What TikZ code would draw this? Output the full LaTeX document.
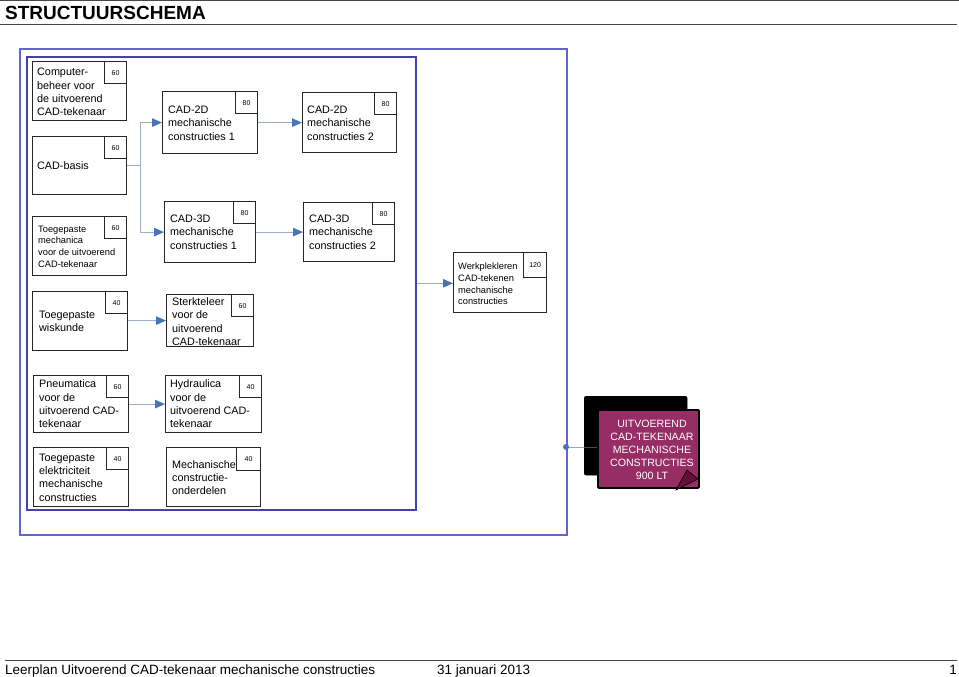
\documentclass[tikz,border=0pt]{standalone}
\usepackage{fontspec}
\setmainfont{Liberation Sans}
\usetikzlibrary{arrows.meta,calc}
\definecolor{outerblue}{RGB}{100,100,205}
\definecolor{innerblue}{RGB}{65,65,175}
\definecolor{connline}{RGB}{150,175,205}
\definecolor{arrowblue}{RGB}{70,115,185}
\definecolor{magbox}{RGB}{150,45,100}
\definecolor{magfold}{RGB}{100,15,55}
\definecolor{rulegrey}{RGB}{70,70,70}
\tikzset{
  mod/.style={draw=black!85, line width=1.2pt, fill=white, anchor=north west, inner sep=0pt},
  num/.style={draw=black!85, line width=1.2pt, fill=white, anchor=north east, minimum width=22pt, minimum height=22pt, inner sep=0pt, font=\fontsize{7}{8}\selectfont},
  txt/.style={anchor=west, align=left, inner sep=0pt, font=\fontsize{10.8}{13.3}\selectfont},
  stxt/.style={anchor=west, align=left, inner sep=0pt, font=\fontsize{9.3}{11.6}\selectfont},
  conn/.style={draw=connline, line width=1pt, -{Triangle[length=10pt,width=8.5pt,color=arrowblue]}},
  plainconn/.style={draw=connline, line width=1pt},
  rule/.style={draw=rulegrey, line width=1pt},
  frame/.style={line width=1.6pt, anchor=north west, inner sep=0pt}
}
\begin{document}
\begin{tikzpicture}[x=1pt,y=-1pt]
\useasboundingbox (0,0) rectangle (959,677);
% header / footer rules
\draw[rule] (0,0.6) -- (959,0.6);
\draw[rule] (0,25) -- (957,25);
\draw[rule] (5,660) -- (957,660);
\node[anchor=west, inner sep=0pt, font=\bfseries\fontsize{19}{22}\selectfont] (title) at (5,13) {STRUCTUURSCHEMA};
\node[anchor=base west, inner sep=0pt, font=\fontsize{13.5}{16}\selectfont] (ft1) at (5,674) {Leerplan Uitvoerend CAD-tekenaar mechanische constructies};
\node[anchor=base west, inner sep=0pt, font=\fontsize{13.5}{16}\selectfont] (ft2) at (437,674) {31 januari 2013};
\node[anchor=base east, inner sep=0pt, font=\fontsize{13.5}{16}\selectfont] (ft3) at (957,674) {1};
% frames
\node[frame, draw=outerblue, minimum width=547pt, minimum height=486pt] (outer) at (19,48) {};
\node[frame, draw=innerblue, minimum width=389pt, minimum height=453pt] (inner) at (26,56) {};
% modules
\node[mod, minimum width=94pt, minimum height=59pt] (b1) at (32,61) {};
\node[num] (b1n) at (b1.north east) {60};
\node[txt] (b1t) at (37,92) {Computer-\\beheer voor\\de uitvoerend\\CAD-tekenaar};

\node[mod, minimum width=94pt, minimum height=58pt] (b2) at (32,136) {};
\node[num] (b2n) at (b2.north east) {60};
\node[txt] (b2t) at (37,166) {CAD-basis};

\node[mod, minimum width=95pt, minimum height=62pt] (b3) at (162,91) {};
\node[num] (b3n) at (b3.north east) {80};
\node[txt] (b3t) at (168,123) {CAD-2D\\mechanische\\constructies 1};

\node[mod, minimum width=94pt, minimum height=60pt] (b4) at (302,92) {};
\node[num] (b4n) at (b4.north east) {80};
\node[txt] (b4t) at (307,123) {CAD-2D\\mechanische\\constructies 2};

\node[mod, minimum width=94pt, minimum height=59pt] (b5) at (32,216) {};
\node[num] (b5n) at (b5.north east) {60};
\node[stxt] (b5t) at (38,246.5) {Toegepaste\\mechanica\\voor de uitvoerend\\CAD-tekenaar};

\node[mod, minimum width=91pt, minimum height=61pt] (b6) at (164,201) {};
\node[num] (b6n) at (b6.north east) {80};
\node[txt] (b6t) at (170,232) {CAD-3D\\mechanische\\constructies 1};

\node[mod, minimum width=91pt, minimum height=59pt] (b7) at (303,202) {};
\node[num] (b7n) at (b7.north east) {80};
\node[txt] (b7t) at (309,232) {CAD-3D\\mechanische\\constructies 2};

\node[mod, minimum width=95pt, minimum height=59pt] (b8) at (32,291) {};
\node[num] (b8n) at (b8.north east) {40};
\node[txt] (b8t) at (39,321.5) {Toegepaste\\wiskunde};

\node[mod, minimum width=87pt, minimum height=52pt] (b9) at (166,294) {};
\node[num] (b9n) at (b9.north east) {60};
\node[txt] (b9t) at (172,321.5) {Sterkteleer\\voor de\\uitvoerend\\CAD-tekenaar};

\node[mod, minimum width=93pt, minimum height=60pt] (b10) at (453,252) {};
\node[num, minimum width=23pt, minimum height=25pt] (b10n) at (b10.north east) {120};
\node[stxt] (b10t) at (458,284) {Werkplekleren\\CAD-tekenen\\mechanische\\constructies};

\node[mod, minimum width=95pt, minimum height=57pt] (b11) at (33,375) {};
\node[num] (b11n) at (b11.north east) {60};
\node[txt] (b11t) at (39,404) {Pneumatica\\voor de\\uitvoerend CAD-\\tekenaar};

\node[mod, minimum width=96pt, minimum height=57pt] (b12) at (165,375) {};
\node[num] (b12n) at (b12.north east) {40};
\node[txt] (b12t) at (170,404) {Hydraulica\\voor de\\uitvoerend CAD-\\tekenaar};

\node[mod, minimum width=95pt, minimum height=59pt] (b13) at (33,447) {};
\node[num] (b13n) at (b13.north east) {40};
\node[txt] (b13t) at (39,477.5) {Toegepaste\\elektriciteit\\mechanische\\constructies};

\node[mod, minimum width=94pt, minimum height=59pt] (b14) at (166,447) {};
\node[num, minimum width=24pt, minimum height=23pt] (b14n) at (b14.north east) {40};
\node[txt] (b14t) at (172,477.5) {Mechanische\\constructie-\\onderdelen};

% connectors
\coordinate (j1) at (140,165);
\draw[plainconn] (b2.east |- j1) -- (j1);
\draw[conn] (j1) |- (b3.west);
\draw[conn] (j1) |- (b6.west);
\draw[conn] (b3.east |- b4.west) -- (b4.west);
\draw[conn] (b6.east |- b7.west) -- (b7.west);
\draw[conn] (b8.east |- b9.west) -- (b9.west);
\draw[conn] (b11.east |- b12.west) -- (b12.west);
\draw[conn] (inner.east) -- (inner.east -| b10.west);

% final node
\coordinate (oe) at (566,447);
\node[anchor=north west, draw=black, fill=black, rounded corners=2pt, minimum width=103pt, minimum height=79pt, inner sep=0pt] (fs) at (584,396) {};
\node[anchor=north west, draw=black, line width=1.8pt, fill=magbox, rounded corners=1pt, minimum width=101pt, minimum height=78pt, inner sep=0pt] (fin) at (597,409) {};
\draw[draw=connline!80!gray, line width=1pt] (oe) -- (oe -| fs.west);
\draw[draw=gray!60!black, line width=1pt] (oe -| fs.west) -- (oe -| fin.west);
\fill[arrowblue] (oe) circle (3pt);
\fill[magfold, draw=black, line width=0.6pt] (676,490) -- (687,470) -- (698,479) -- cycle;
\node[align=center, text=white, inner sep=0pt, font=\fontsize{10.6}{13}\selectfont] (fint) at (652,450) {UITVOEREND\\CAD-TEKENAAR\\MECHANISCHE\\CONSTRUCTIES\\900 LT};
\end{tikzpicture}
\end{document}
